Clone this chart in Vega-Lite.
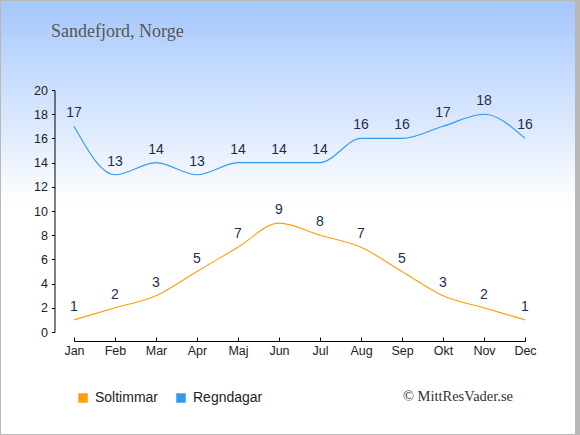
{
  "$schema": "https://vega.github.io/schema/vega-lite/v6.json",
  "width": 451,
  "height": 242,
  "autosize": {"type": "none"},
  "padding": {"left": 74, "top": 90, "right": 55, "bottom": 103},
  "background": "#b8b8b8",
  "title": {
    "text": "Sandefjord, Norge",
    "anchor": "start",
    "frame": "group",
    "dx": -23,
    "offset": -53.5,
    "baseline": "alphabetic",
    "font": "Liberation Serif",
    "fontSize": 18,
    "fontWeight": "normal",
    "color": "#555555"
  },
  "data": {
    "values": [
      {"month": 1, "series": "Soltimmar", "value": 1},
      {"month": 2, "series": "Soltimmar", "value": 2},
      {"month": 3, "series": "Soltimmar", "value": 3},
      {"month": 4, "series": "Soltimmar", "value": 5},
      {"month": 5, "series": "Soltimmar", "value": 7},
      {"month": 6, "series": "Soltimmar", "value": 9},
      {"month": 7, "series": "Soltimmar", "value": 8},
      {"month": 8, "series": "Soltimmar", "value": 7},
      {"month": 9, "series": "Soltimmar", "value": 5},
      {"month": 10, "series": "Soltimmar", "value": 3},
      {"month": 11, "series": "Soltimmar", "value": 2},
      {"month": 12, "series": "Soltimmar", "value": 1},
      {"month": 1, "series": "Regndagar", "value": 17},
      {"month": 2, "series": "Regndagar", "value": 13},
      {"month": 3, "series": "Regndagar", "value": 14},
      {"month": 4, "series": "Regndagar", "value": 13},
      {"month": 5, "series": "Regndagar", "value": 14},
      {"month": 6, "series": "Regndagar", "value": 14},
      {"month": 7, "series": "Regndagar", "value": 14},
      {"month": 8, "series": "Regndagar", "value": 16},
      {"month": 9, "series": "Regndagar", "value": 16},
      {"month": 10, "series": "Regndagar", "value": 17},
      {"month": 11, "series": "Regndagar", "value": 18},
      {"month": 12, "series": "Regndagar", "value": 16}
    ]
  },
  "layer": [
    {
      "data": {"values": [{}]},
      "mark": {
        "type": "rect",
        "fill": {
          "gradient": "linear",
          "x1": 0, "y1": 0, "x2": 0, "y2": 1,
          "stops": [
            {"offset": 0, "color": "#a5c7fc"},
            {"offset": 0.47, "color": "#ffffff"},
            {"offset": 1, "color": "#ffffff"}
          ]
        }
      },
      "encoding": {
        "x": {
          "datum": -0.7805,
          "type": "quantitative",
          "axis": {
            "title": null,
            "zindex": 1,
            "values": [1, 2, 3, 4, 5, 6, 7, 8, 9, 10, 11, 12],
            "labelExpr": "['Jan','Feb','Mar','Apr','Maj','Jun','Jul','Aug','Sep','Okt','Nov','Dec'][datum.value - 1]",
            "labelFlush": false,
            "labelOverlap": false,
            "offset": 9,
            "tickSize": -4,
            "labelPadding": 7
          }
        },
        "x2": {"datum": 13.2195},
        "y": {
          "datum": 27.355,
          "type": "quantitative",
          "axis": {
            "title": null,
            "zindex": 1,
            "values": [0, 2, 4, 6, 8, 10, 12, 14, 16, 18, 20],
            "tickCount": 11,
            "labelFlush": false,
            "labelOverlap": false,
            "labelSeparation": -20,
            "offset": 19.5,
            "tickSize": 3,
            "labelPadding": 4
          }
        },
        "y2": {"datum": -8.43}
      }
    },
    {
      "mark": {"type": "line", "interpolate": "monotone", "strokeWidth": 1.1},
      "encoding": {
        "x": {
          "field": "month",
          "type": "quantitative",
          "scale": {"domain": [1, 12], "nice": false, "zero": false},
          "axis": {
            "title": null,
            "zindex": 1,
            "values": [1, 2, 3, 4, 5, 6, 7, 8, 9, 10, 11, 12],
            "labelExpr": "['Jan','Feb','Mar','Apr','Maj','Jun','Jul','Aug','Sep','Okt','Nov','Dec'][datum.value - 1]",
            "labelFlush": false,
            "labelOverlap": false,
            "offset": 9,
            "tickSize": -4,
            "labelPadding": 7
          }
        },
        "y": {
          "field": "value",
          "type": "quantitative",
          "scale": {"domain": [0, 20], "nice": false},
          "axis": {
            "title": null,
            "zindex": 1,
            "values": [0, 2, 4, 6, 8, 10, 12, 14, 16, 18, 20],
            "tickCount": 11,
            "labelFlush": false,
            "labelOverlap": false,
            "labelSeparation": -20,
            "offset": 19.5,
            "tickSize": 3,
            "labelPadding": 4
          }
        },
        "color": {
          "field": "series",
          "type": "nominal",
          "scale": {"domain": ["Soltimmar", "Regndagar"], "range": ["#ff9d0a", "#3399ee"]},
          "legend": {
            "title": null,
            "orient": "none",
            "legendX": 2,
            "legendY": 301,
            "direction": "horizontal",
            "symbolType": "square",
            "symbolSize": 90,
            "symbolStrokeWidth": 0,
            "labelFont": "Liberation Sans",
            "labelFontSize": 14,
            "labelColor": "#222222",
            "labelOffset": 5,
            "columnPadding": 15,
            "encode": {
              "symbols": {"update": {"fill": {"scale": "color", "field": "value"}, "strokeWidth": {"value": 0}}}
            }
          }
        }
      }
    },
    {
      "mark": {
        "type": "text",
        "dy": -9,
        "baseline": "alphabetic",
        "font": "Liberation Sans",
        "fontSize": 14,
        "color": "#1f2d4d"
      },
      "encoding": {
        "x": {"field": "month", "type": "quantitative"},
        "y": {"field": "value", "type": "quantitative"},
        "text": {"field": "value", "type": "quantitative"}
      }
    },
    {
      "data": {"values": [{"note": "© MittResVader.se"}]},
      "mark": {
        "type": "text",
        "align": "right",
        "baseline": "alphabetic",
        "font": "Liberation Serif",
        "fontSize": 14.5,
        "color": "#333333"
      },
      "encoding": {
        "x": {"datum": 11.707, "type": "quantitative"},
        "y": {"datum": -5.7, "type": "quantitative"},
        "text": {"field": "note", "type": "nominal"}
      }
    }
  ],
  "config": {
    "view": {"stroke": null},
    "axis": {
      "grid": false,
      "labelOverlap": false,
      "domainColor": "#000000",
      "tickColor": "#000000",
      "labelFont": "Liberation Sans",
      "labelFontSize": 12.5,
      "labelColor": "#222222"
    }
  }
}
